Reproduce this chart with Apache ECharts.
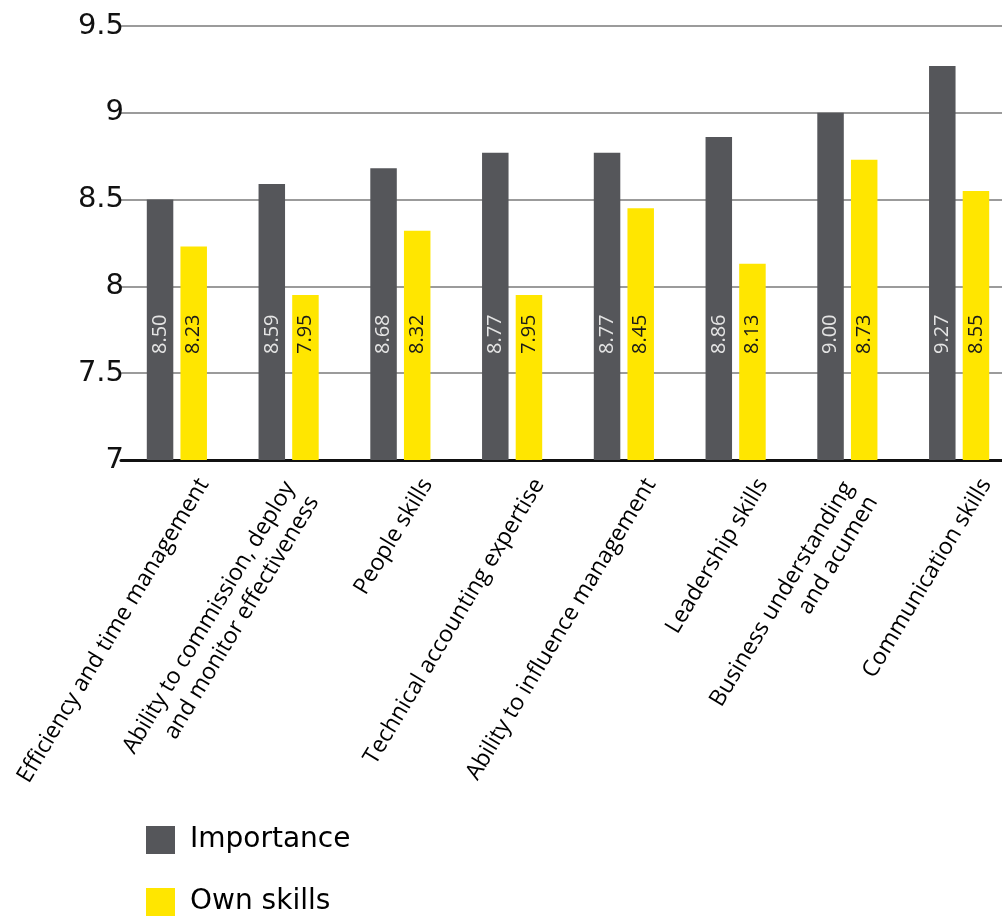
<!DOCTYPE html>
<html>
<head>
<meta charset="utf-8">
<script src="https://cdn.jsdelivr.net/npm/echarts@6/dist/echarts.min.js"></script>
<style>
  html, body { margin: 0; padding: 0; background: #ffffff; }
  #chart { width: 1002px; height: 922px; }
</style>
</head>
<body>
<div id="chart"></div>
<script>
const categories = [
  'Efficiency and time management',
  'Ability to commission, deploy\nand monitor effectiveness',
  'People skills',
  'Technical accounting expertise',
  'Ability to influence management',
  'Leadership skills',
  'Business understanding\nand acumen',
  'Communication skills'
];
const importance = [8.50, 8.59, 8.68, 8.77, 8.77, 8.86, 9.00, 9.27];
const ownSkills = [8.23, 7.95, 8.32, 7.95, 8.45, 8.13, 8.73, 8.55];
const seriesNames = ['Importance', 'Own skills'];
const yMin = 7, yMax = 9.5, yStep = 0.5;

const chart = echarts.init(document.getElementById('chart'), null, { renderer: 'canvas' });

const catFont = { fontSize: 23, fontFamily: 'Open Sans', color: '#000', lineHeight: 28 };

const barLabel = (color) => ({
  show: true,
  position: 'insideBottom',
  distance: 106,
  rotate: 90,
  align: 'left',
  verticalAlign: 'middle',
  color: color,
  fontSize: 20,
  fontFamily: 'Open Sans',
  textBorderWidth: 0,
  formatter: (p) => Number(p.value).toFixed(2)
});

chart.setOption({
  animation: false,
  backgroundColor: '#ffffff',
  grid: { left: 121, top: 26, width: 894, height: 434, containLabel: false, outerBoundsMode: 'none' },
  legend: {
    data: seriesNames,
    orient: 'vertical',
    left: 146,
    top: 826,
    padding: 0,
    itemWidth: 29,
    itemHeight: 28,
    itemGap: 34,
    icon: 'rect',
    textStyle: { fontSize: 28, fontFamily: 'DejaVu Sans', color: '#000', padding: [0, 0, 0, 10] }
  },
  xAxis: {
    type: 'category',
    data: categories,
    axisTick: { show: false },
    axisLine: { show: true, lineStyle: { color: '#111', width: 3 } },
    axisLabel: {
      interval: 0,
      rotate: 59,
      margin: 2,
      fontSize: 23,
      lineHeight: 28,
      fontFamily: 'Open Sans',
      color: '#000',
      hideOverlap: false,
      formatter: (value) => {
        const lines = value.split('\n');
        if (lines.length === 1) return '{s|' + value + '}';
        return lines.map((l) => '{m|' + l + '}').join('\n');
      },
      rich: {
        s: Object.assign({ padding: [65, 2, 0, 0] }, catFont),
        m: Object.assign({ padding: [52, 18, 0, 0] }, catFont)
      }
    }
  },
  yAxis: {
    type: 'value',
    min: yMin,
    max: yMax,
    interval: yStep,
    axisLine: { show: false },
    axisTick: { show: false },
    splitLine: { show: true, lineStyle: { color: '#9b9b9b', width: 2 } },
    axisLabel: { fontSize: 29, fontFamily: 'DejaVu Sans', color: '#111', margin: -3 }
  },
  series: [
    {
      name: seriesNames[0],
      type: 'bar',
      data: importance,
      barWidth: 26.5,
      barGap: '27%',
      itemStyle: { color: '#55565a' },
      label: barLabel('#e4e4e4')
    },
    {
      name: seriesNames[1],
      type: 'bar',
      data: ownSkills,
      barWidth: 26.5,
      barGap: '27%',
      itemStyle: { color: '#ffe600' },
      label: barLabel('#1a1a1a')
    }
  ]
});
</script>
</body>
</html>
